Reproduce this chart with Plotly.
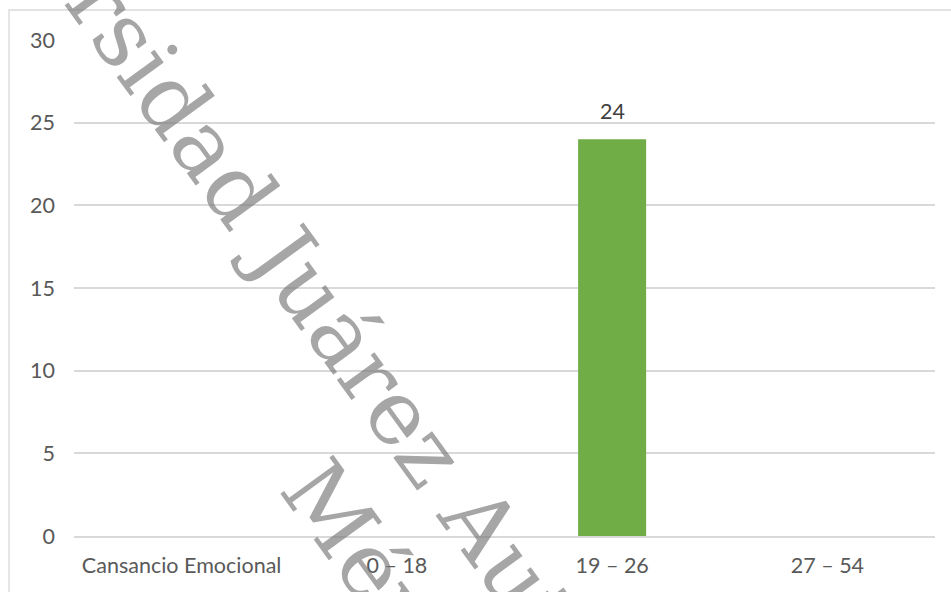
import math
import plotly.graph_objects as go

categories = ["Cansancio Emocional", "0 – 18", "19 – 26", "27 – 54"]
values = [None, None, 24, None]
y_ticks = [0, 5, 10, 15, 20, 25, 30]
label_text = ["", "", "24", ""]
watermark_lines = ["Universidad Juárez Autónoma de Tabasco", "México"]

FONT = "Lato"
W, H = 951, 592
L, R, T, B = 74, 16, 40, 56
pw, ph = W - L - R, H - T - B

def px_to_paper(x, y):
    return (x - L) / pw, (H - B - y) / ph

fig = go.Figure()
fig.add_trace(go.Bar(
    x=categories, y=values, width=0.316,
    marker=dict(color="#70AD47", line=dict(width=0)),
    showlegend=False, hoverinfo="skip",
))

for c, v, t in zip(categories, values, label_text):
    if v is not None and t:
        fig.add_annotation(x=c, y=v, text=t, showarrow=False, yanchor="bottom",
                           yshift=13, font=dict(family=FONT, size=21.5, color="#404040"))

# watermark (rotated, semi-transparent)
ang = 54
wm_size = 90
ux, uy = math.cos(math.radians(ang)), math.sin(math.radians(ang))
nx, ny = uy, -ux
along = 724
ups = [50 + 0.346 * wm_size, -63 + 0.346 * wm_size]
for text, up in zip(watermark_lines, ups):
    cx = along * ux + up * nx
    cy = along * uy + up * ny
    xp, yp = px_to_paper(cx, cy)
    fig.add_annotation(xref="paper", yref="paper", x=xp, y=yp, text=text,
                       showarrow=False, textangle=ang, xanchor="center", yanchor="middle",
                       font=dict(family="DejaVu Serif", size=wm_size,
                                 color="rgba(120,120,120,0.66)"))

# outer chart border
x0, y1 = px_to_paper(9, 10)
fig.add_shape(type="rect", xref="paper", yref="paper", x0=x0, y0=-1, x1=2, y1=y1,
              line=dict(color="#D9D9D9", width=1.3), fillcolor="rgba(0,0,0,0)", layer="below")

fig.update_layout(
    width=W, height=H,
    margin=dict(l=L, r=R, t=T, b=B, pad=0),
    paper_bgcolor="white", plot_bgcolor="white",
    font=dict(family=FONT, size=21.5, color="#595959"),
    xaxis=dict(type="category", categoryorder="array", categoryarray=categories,
               showgrid=False, showline=True, linecolor="#D9D9D9", linewidth=1.5,
               ticks="", ticklabelstandoff=9, zeroline=False,
               tickfont=dict(family=FONT, size=21.5, color="#595959")),
    yaxis=dict(range=[0, 30], tickvals=y_ticks, showgrid=True, gridcolor="#D9D9D9",
               gridwidth=1.5, zeroline=False, showline=False, ticks="",
               ticklabelstandoff=18,
               tickfont=dict(family=FONT, size=21.5, color="#595959")),
)

fig.write_html("out.html")
